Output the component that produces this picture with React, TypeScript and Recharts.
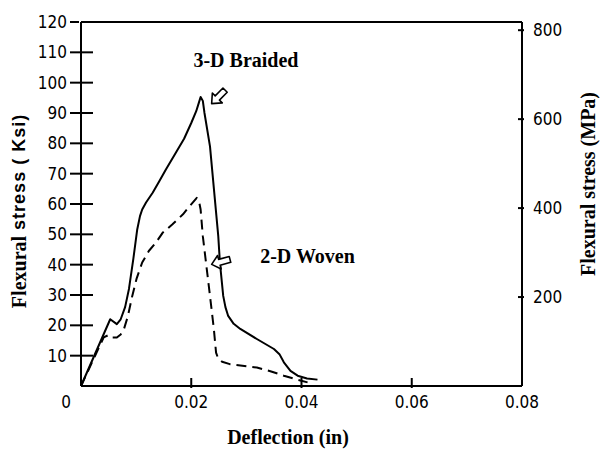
import React from "react";
import { LineChart, Line, XAxis, YAxis, ReferenceLine, ReferenceDot } from "recharts";

// 3-D Braided (solid)
const braidedDeflection = [0, 0.0053, 0.0065, 0.0072, 0.008, 0.0087, 0.0095, 0.0102, 0.0107, 0.0111, 0.0118, 0.013, 0.0142, 0.0154, 0.0172, 0.0187, 0.02, 0.0209, 0.0214, 0.0217, 0.0221, 0.0224, 0.0234, 0.0249, 0.0252, 0.0258, 0.0262, 0.0267, 0.0277, 0.0289, 0.0319, 0.035, 0.036, 0.0368, 0.038, 0.0393, 0.041, 0.0429];
const braidedStress = [0, 22, 20.4, 22, 26, 32, 42, 51.6, 56, 58.2, 60.5, 63.7, 67.5, 71.4, 76.9, 81.5, 86.7, 90.6, 93.5, 95.3, 94, 90, 79, 49.4, 40.7, 29.7, 26, 23.1, 20.5, 18.8, 15.5, 12.2, 10.5, 7.8, 5, 3.4, 2.5, 2.1];

// 2-D Woven (dashed)
const wovenDeflection = [0, 0.0041, 0.005, 0.0056, 0.0065, 0.0072, 0.0078, 0.0085, 0.0093, 0.0101, 0.0111, 0.0123, 0.0136, 0.0148, 0.0166, 0.0185, 0.0198, 0.021, 0.0214, 0.0217, 0.0221, 0.0234, 0.0241, 0.0245, 0.0249, 0.0256, 0.027, 0.0319, 0.0345, 0.0368, 0.039, 0.0411];
const wovenStress = [0, 16, 16.8, 16, 16, 17, 18.8, 23, 29.7, 35.5, 40.7, 44.5, 47.3, 50.5, 53.3, 56.6, 59.5, 62, 61, 58.2, 49.4, 29.7, 18.8, 11, 9, 8, 7.2, 6.1, 4.8, 3.4, 2.2, 1.2];

const xTicks = [0, 0.02, 0.04, 0.06, 0.08];
const xTickLabels = ["0", "0.02", "0.04", "0.06", "0.08"];
const ksiTicks = [10, 20, 30, 40, 50, 60, 70, 80, 90, 100, 110, 120];
const mpaTicks = [200, 400, 600, 800];
const KSI_TO_MPA = 6.82;

const braidedData = braidedDeflection.map((x, i) => ({ x, y: braidedStress[i], mpa: braidedStress[i] * KSI_TO_MPA }));
const wovenData = wovenDeflection.map((x, i) => ({ x, y: wovenStress[i] }));

const tickFont = "'Liberation Sans Narrow', 'DejaVu Sans Condensed', 'Liberation Sans', Arial, sans-serif";
const serif = "'Liberation Serif', 'Times New Roman', serif";
const sans = "'Liberation Sans', Arial, sans-serif";

const LeftTick = (props: any) => {
  const { x, y, payload } = props;
  const v = payload.value;
  return (
    <g>
      <line x1={x - 9} x2={v === 120 ? x : x + 14} y1={y} y2={y} stroke="#000" strokeWidth={2} />
      <text x={x - 12} y={y} textAnchor="end" dominantBaseline="central" fontFamily={tickFont} fontSize={17} fill="#000">
        {v}
      </text>
    </g>
  );
};

const RightTick = (props: any) => {
  const { x, y, payload } = props;
  return (
    <g>
      <line x1={x - 6} x2={x} y1={y} y2={y} stroke="#000" strokeWidth={2} />
      <text x={x + 9} y={y} textAnchor="start" dominantBaseline="central" fontFamily={tickFont} fontSize={17} fill="#000">
        {payload.value}
      </text>
    </g>
  );
};

const BottomTick = (props: any) => {
  const { x, y, payload } = props;
  const v = payload.value;
  const idx = xTicks.indexOf(v);
  const label = idx >= 0 ? xTickLabels[idx] : String(v);
  const inner = v > 0 && v < 0.08;
  return (
    <g>
      {inner && <line x1={x} x2={x} y1={y} y2={y - 10} stroke="#000" strokeWidth={2} />}
      <text x={v === 0 ? x - 15 : x} y={y + 14} textAnchor="middle" dominantBaseline="central" fontFamily={tickFont} fontSize={17} fill="#000">
        {label}
      </text>
    </g>
  );
};

const arrowShape = (angle: number) => (props: any) => {
  const { cx, cy } = props;
  return (
    <polygon
      points="0,0 8,-7 8,-3 19,-3 19,3 8,3 8,7"
      transform={`translate(${cx},${cy}) rotate(${angle})`}
      fill="#fff"
      stroke="#000"
      strokeWidth={1.6}
      strokeLinejoin="round"
    />
  );
};

const textShape = (label: string) => (props: any) => {
  const { cx, cy } = props;
  return (
    <text x={cx} y={cy} textAnchor="start" dominantBaseline="central" fontFamily={serif} fontWeight="bold" fontSize={20} fill="#000">
      {label}
    </text>
  );
};

export default function App() {
  return (
    <div style={{ position: "absolute", left: 0, top: 0, background: "#fff" }}>
      <LineChart width={603} height={449} margin={{ top: 22, right: 0, bottom: 0, left: 0 }}>
        <XAxis
          type="number"
          dataKey="x"
          domain={[0, 0.08]}
          ticks={xTicks}
          tick={<BottomTick />}
          tickSize={0}
          tickLine={false}
          height={63}
          axisLine={{ stroke: "#000", strokeWidth: 2 }}
          allowDuplicatedCategory={false}
          label={{
            content: () => (
              <text x={288} y={437} textAnchor="middle" dominantBaseline="central" fontFamily={serif} fontWeight="bold" fontSize={20} fill="#000">
                Deflection (in)
              </text>
            ),
          }}
        />
        <YAxis
          yAxisId="ksi"
          orientation="left"
          type="number"
          domain={[0, 120]}
          ticks={ksiTicks}
          tick={<LeftTick />}
          tickSize={0}
          tickLine={false}
          width={81}
          axisLine={{ stroke: "#000", strokeWidth: 2 }}
          label={{
            content: () => (
              <text transform="translate(19,211) rotate(-90)" textAnchor="middle" dominantBaseline="central" fill="#000">
                <tspan fontFamily={serif} fontWeight="bold" fontSize={20}>Flexural</tspan>
                <tspan fontFamily={sans} fontWeight="bold" fontSize={18} letterSpacing={1}> stress ( Ksi)</tspan>
              </text>
            ),
          }}
        />
        <YAxis
          yAxisId="mpa"
          orientation="right"
          type="number"
          domain={[0, 120 * KSI_TO_MPA]}
          ticks={mpaTicks}
          tick={<RightTick />}
          tickSize={0}
          tickLine={false}
          width={81}
          axisLine={{ stroke: "#000", strokeWidth: 2 }}
          label={{
            content: () => (
              <text transform="translate(588,184) rotate(-90)" textAnchor="middle" dominantBaseline="central" fontFamily={serif} fontWeight="bold" fontSize={20} fill="#000">
                Flexural stress (MPa)
              </text>
            ),
          }}
        />
        <ReferenceLine yAxisId="ksi" y={120} stroke="#000" strokeWidth={2} />
        <Line
          yAxisId="mpa"
          data={braidedData}
          dataKey="mpa"
          type="linear"
          stroke="none"
          dot={false}
          activeDot={false}
          isAnimationActive={false}
        />
        <Line
          yAxisId="ksi"
          data={braidedData}
          dataKey="y"
          type="linear"
          stroke="#000"
          strokeWidth={2}
          strokeLinejoin="round"
          dot={false}
          isAnimationActive={false}
        />
        <Line
          yAxisId="ksi"
          data={wovenData}
          dataKey="y"
          type="linear"
          stroke="#000"
          strokeWidth={2}
          strokeLinejoin="round"
          strokeDasharray="10 6"
          dot={false}
          isAnimationActive={false}
        />
        <ReferenceDot yAxisId="ksi" x={0.0237} y={93.1} r={0} shape={arrowShape(-45)} ifOverflow="visible" />
        <ReferenceDot yAxisId="ksi" x={0.0237} y={40.1} r={0} shape={arrowShape(-15)} ifOverflow="visible" />
        <ReferenceDot yAxisId="ksi" x={0.0204} y={107.6} r={0} shape={textShape("3-D Braided")} ifOverflow="visible" />
        <ReferenceDot yAxisId="ksi" x={0.0325} y={42.8} r={0} shape={textShape("2-D Woven")} ifOverflow="visible" />
      </LineChart>
    </div>
  );
}
